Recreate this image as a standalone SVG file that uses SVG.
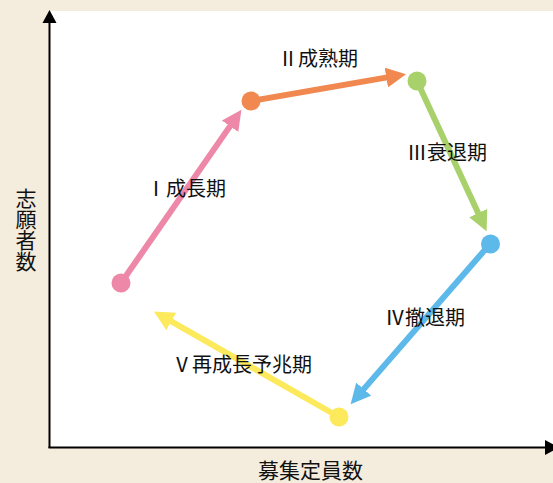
<svg xmlns="http://www.w3.org/2000/svg" width="553" height="483" viewBox="0 0 553 483">
<style>
.lbl{font-family:"Noto Sans CJK JP","Noto Sans",sans-serif;font-size:20px;fill:#111}
.ax{stroke:#000;stroke-width:2;fill:none}
.seg{stroke-width:6;fill:none;stroke-linecap:butt}
</style>
<defs>
<marker id="mPink" viewBox="0 0 20 20" refX="1" refY="10" markerWidth="20" markerHeight="20" markerUnits="userSpaceOnUse" orient="auto"><path d="M0,0 L20,10 L0,20 z" fill="#ee88a9"/></marker>
<marker id="mOrange" viewBox="0 0 20 20" refX="1" refY="10" markerWidth="20" markerHeight="20" markerUnits="userSpaceOnUse" orient="auto"><path d="M0,0 L20,10 L0,20 z" fill="#f08850"/></marker>
<marker id="mGreen" viewBox="0 0 20 20" refX="1" refY="10" markerWidth="20" markerHeight="20" markerUnits="userSpaceOnUse" orient="auto"><path d="M0,0 L20,10 L0,20 z" fill="#a9d16b"/></marker>
<marker id="mBlue" viewBox="0 0 20 20" refX="1" refY="10" markerWidth="20" markerHeight="20" markerUnits="userSpaceOnUse" orient="auto"><path d="M0,0 L20,10 L0,20 z" fill="#5db9e9"/></marker>
<marker id="mYellow" viewBox="0 0 20 20" refX="1" refY="10" markerWidth="20" markerHeight="20" markerUnits="userSpaceOnUse" orient="auto"><path d="M0,0 L20,10 L0,20 z" fill="#fde95c"/></marker>
</defs>
<rect width="553" height="483" fill="#f4ecdd"/>
<rect x="49" y="11" width="504" height="436" fill="#fff"/>
<g id="axes">
<line class="ax" x1="49.5" y1="448" x2="49.5" y2="22"/>
<polygon points="42.5,23 49.5,10 56.5,23" fill="#000"/>
<line class="ax" x1="48.5" y1="447.5" x2="546" y2="447.5"/>
<polygon points="545,440 559,447.5 545,455" fill="#000"/>
<text class="lbl" style="font-size:21px" x="258" y="478">募集定員数</text>
<text class="lbl" style="font-size:21px;writing-mode:vertical-rl;text-orientation:upright" x="26" y="188">志願者数</text>
</g>
<g id="connectors">
<line class="seg" stroke="#ee88a9" x1="121" y1="283" x2="230.6" y2="125.4" marker-end="url(#mPink)"/>
<line class="seg" stroke="#f08850" x1="251" y1="101" x2="387.3" y2="77.4" marker-end="url(#mOrange)"/>
<line class="seg" stroke="#a9d16b" x1="417" y1="81" x2="478.6" y2="213.9" marker-end="url(#mGreen)"/>
<line class="seg" stroke="#5db9e9" x1="490" y1="244" x2="363.1" y2="389.9" marker-end="url(#mBlue)"/>
<line class="seg" stroke="#fde95c" x1="339" y1="417" x2="170.4" y2="320.9" marker-end="url(#mYellow)"/>
</g>
<g id="p1"><circle cx="121" cy="283" r="9.5" fill="#ee88a9"/><text class="lbl" x="146" y="196">Ⅰ成長期</text></g>
<g id="p2"><circle cx="251" cy="101" r="9.5" fill="#f08850"/><text class="lbl" x="278" y="66">Ⅱ成熟期</text></g>
<g id="p3"><circle cx="417" cy="81" r="9.5" fill="#a9d16b"/><text class="lbl" x="407" y="160">Ⅲ衰退期</text></g>
<g id="p4"><circle cx="490.5" cy="244" r="9.5" fill="#5db9e9"/><text class="lbl" x="385" y="325">Ⅳ撤退期</text></g>
<g id="p5"><circle cx="339" cy="417" r="9.5" fill="#fde95c"/><text class="lbl" x="172" y="371.5">Ⅴ再成長予兆期</text></g>
</svg>
